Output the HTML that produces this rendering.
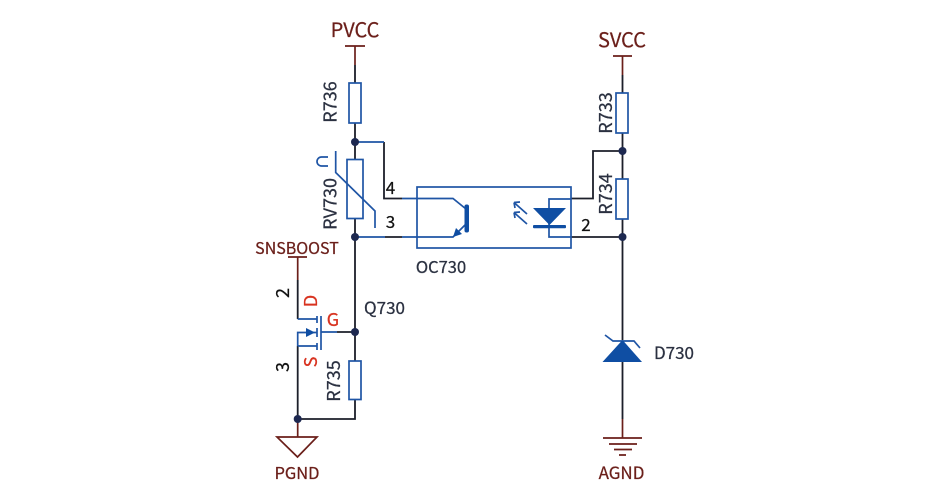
<!DOCTYPE html>
<html>
<head>
<meta charset="utf-8">
<style>
html,body{margin:0;padding:0;background:#fff;width:950px;height:500px;overflow:hidden}
svg{display:block}
text{font-family:"Noto Sans CJK SC","Liberation Sans",sans-serif;stroke-width:.25}
.br{fill:#6b1f1a;stroke:#6b1f1a}
.dk{fill:#2a3040;stroke:#2a3040}
.bk{fill:#111;stroke:#111}
.rd{fill:#d8321f;stroke:#d8321f}
</style>
</head>
<body>
<svg width="950" height="500" viewBox="0 0 950 500" xmlns="http://www.w3.org/2000/svg" fill="none" stroke-linecap="butt">
<!-- brown power stubs -->
<g stroke="#6b1f1a" stroke-width="1.7">
<path d="M345 46H365M355 46V65"/>
<path d="M613 56H632M622.5 56V75"/>
<path d="M288 257H307M297.7 257V280"/>
<path d="M297.7 419V437M277 437H317L297.5 457Z"/>
<path d="M622.5 419V438M603 438H642M609 444H637M614 449.500H632M619 455H626"/>
</g>
<!-- black wires -->
<g stroke="#1c1f2a" stroke-width="1.8">
<path d="M355 65V83M355 123V159M355 218V361M355 399V419H297.700"/>
<path d="M622.500 75V93M622.500 133V179M622.500 219V340M622.500 362V419"/>
<path d="M622.500 151H593V198.500H571M622.500 237H571"/>
<path d="M384 142V198.500H402M385 237H402"/>
<path d="M297.700 280V319M297.700 346V419"/>
<path d="M337 332H355"/>
</g>
<!-- blue symbols -->
<g stroke="#1f55a5" stroke-width="1.7">
<rect x="349" y="83" width="12" height="40"/>
<rect x="347" y="159.500" width="16" height="59"/>
<rect x="349" y="361" width="12" height="38.500"/>
<rect x="616" y="93" width="12" height="40"/>
<rect x="616" y="179" width="12" height="40"/>
<rect x="417" y="187" width="154" height="61"/>
<path d="M355 142H384M402 198.500H453L466 209M355 237H385M402 237H453L466 224"/>
<path d="M335.700 151V172.500L375 211V228"/>
<path d="M571 199H549V237H571"/>
<path d="M514 202.500L527 214M514 212.500L527 224M514 202.500L520 202M514 202.500L515 208M514 212.500L520 212M514 212.500L515 218"/>
<path d="M297.700 319H317M297.700 346H317M297.700 346V332.500H317M321 332H337"/>
<path d="M317 316V323M317 328V337M317 343V350M321 316V350"/>
<path d="M605 335L613 341H634L640 348"/>
<path d="M328 157H321.500A4.500 4.500 0 0 0 321.500 166H328"/>
</g>
<!-- filled blue -->
<g fill="#0f4ea3" stroke="none">
<rect x="464.500" y="204.500" width="4.500" height="28" rx="2"/>
<path d="M453 237L462 234L456 228Z"/>
<path d="M533 208H566L549.500 225Z"/>
<rect x="533" y="225" width="33" height="3.200" rx="1"/>
<path d="M306 328L315 332.500L306 337Z"/>
<path d="M602.500 362H642L622.500 340Z"/>
</g>
<!-- junctions -->
<g fill="#1d2850" stroke="none">
<circle cx="355" cy="142" r="4"/>
<circle cx="355" cy="237" r="4"/>
<circle cx="355" cy="332" r="4"/>
<circle cx="297.700" cy="419" r="4"/>
<circle cx="622.500" cy="151" r="4"/>
<circle cx="622.500" cy="237" r="4"/>
</g>
<!-- labels -->
<text class="br" x="355" y="37" font-size="20" text-anchor="middle">PVCC</text>
<text class="br" x="622" y="47" font-size="20" text-anchor="middle">SVCC</text>
<text class="br" x="297" y="254" font-size="16" text-anchor="middle">SNSBOOST</text>
<text class="br" x="297" y="479" font-size="16.500" text-anchor="middle">PGND</text>
<text class="br" x="621.500" y="479" font-size="17" text-anchor="middle">AGND</text>
<text class="dk" x="441" y="273" font-size="16.500" text-anchor="middle">OC730</text>
<text class="dk" x="384.500" y="314" font-size="17" text-anchor="middle">Q730</text>
<text class="dk" x="674" y="359" font-size="17" text-anchor="middle">D730</text>
<text class="dk" font-size="18" text-anchor="middle" transform="translate(336.500,102) rotate(-90)">R736</text>
<text class="dk" font-size="18" text-anchor="middle" transform="translate(336.500,204) rotate(-90)">RV730</text>
<text class="dk" font-size="18" text-anchor="middle" transform="translate(340,381) rotate(-90)">R735</text>
<text class="dk" font-size="18" text-anchor="middle" transform="translate(612,113) rotate(-90)">R733</text>
<text class="dk" font-size="18" text-anchor="middle" transform="translate(612,194) rotate(-90)">R734</text>
<text class="bk" x="390.500" y="194" font-size="17" text-anchor="middle">4</text>
<text class="bk" x="390.500" y="228" font-size="17" text-anchor="middle">3</text>
<text class="bk" x="586" y="231" font-size="17" text-anchor="middle">2</text>
<text class="bk" font-size="18" text-anchor="middle" transform="translate(289,293) rotate(-90)">2</text>
<text class="bk" font-size="18" text-anchor="middle" transform="translate(289,367) rotate(-90)">3</text>
<text class="rd" font-size="18" text-anchor="middle" transform="translate(317,301) rotate(-90)">D</text>
<text class="rd" font-size="18" text-anchor="middle" transform="translate(317,362) rotate(-90)">S</text>
<text class="rd" x="333" y="326" font-size="18" text-anchor="middle">G</text>
</svg>
</body>
</html>
